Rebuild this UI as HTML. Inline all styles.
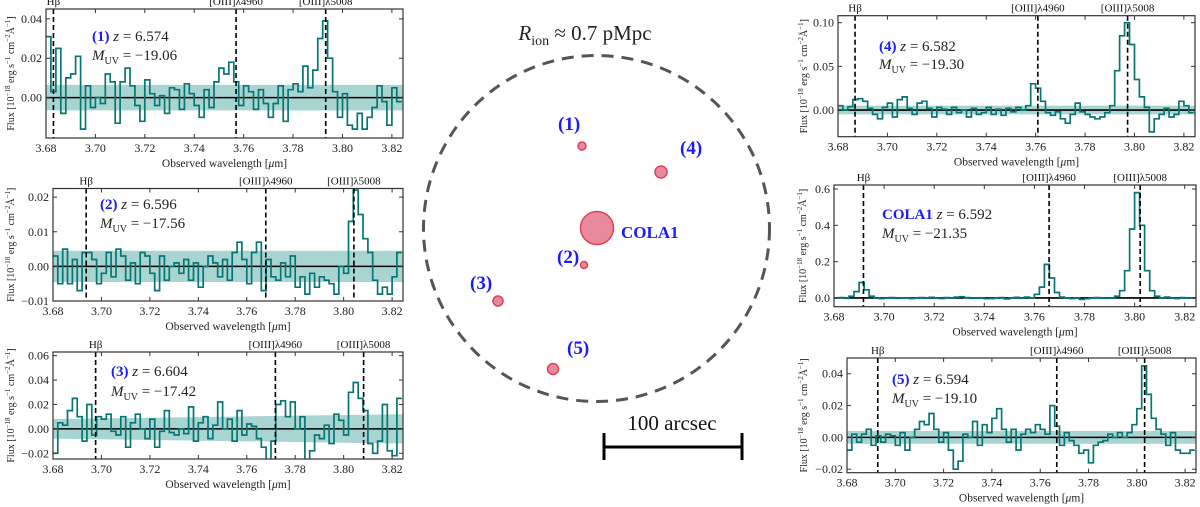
<!DOCTYPE html>
<html><head><meta charset="utf-8"><style>
html,body{margin:0;padding:0;background:#fff;}
svg{display:block;font-family:"Liberation Serif","DejaVu Serif",serif;}
</style></head><body>
<svg id="fig" width="1200" height="507" viewBox="0 0 1200 507" xmlns="http://www.w3.org/2000/svg">
<g id="center">
  <text x="585" y="40" font-size="21" text-anchor="middle" fill="#222"><tspan font-style="italic">R</tspan><tspan font-size="14" dy="5">ion</tspan><tspan dy="-5"> ≈ 0.7 pMpc</tspan></text>
  <circle cx="596.5" cy="228.5" r="173" fill="none" stroke="#555" stroke-width="3" stroke-dasharray="12,8"/>
  <line x1="604" y1="447" x2="742" y2="447" stroke="#000" stroke-width="3"/>
  <line x1="604" y1="433" x2="604" y2="460" stroke="#000" stroke-width="3"/>
  <line x1="742" y1="433" x2="742" y2="460" stroke="#000" stroke-width="3"/>
  <text x="672" y="430" font-size="21" text-anchor="middle" fill="#111">100 arcsec</text>
</g>
</svg>
<script>
// ---- map data ----
const srcNames = ['(1)','(4)','COLA1','(2)','(3)','(5)'];
const srcX = [582, 661, 597, 584, 498, 553];
const srcY = [146, 172, 228, 265, 301, 369];
const srcR = [4, 6, 16.5, 3.5, 5, 5.5];
const srcLabelX = [558, 680, 621, 557, 470, 567];
const srcLabelY = [130, 154, 238, 263, 289, 354];

// ---- spectra data ----
const panelIds = ['p1','p2','p3','p4','cola1','p5'];
const panelTags = ['(1)','(2)','(3)','(4)','COLA1','(5)'];
const redshifts = [6.574, 6.596, 6.604, 6.582, 6.592, 6.594];
const muvValues = ['−19.06','−17.56','−17.42','−19.30','−21.35','−19.10'];
const restLines = [0.48627, 0.49603, 0.50082];
const lineNames = ['Hβ','[OIII]λ4960','[OIII]λ5008'];
const xTicks = [3.68,3.70,3.72,3.74,3.76,3.78,3.80,3.82];
const xTickLabels = ['3.68','3.70','3.72','3.74','3.76','3.78','3.80','3.82'];
const binStart = 3.680;
const binWidth = 0.002;
const yTicks1 = [0.00,0.02,0.04];
const yTicks2 = [-0.01,0.00,0.01,0.02];
const yTicks3 = [-0.02,0.00,0.02,0.04,0.06];
const yTicks4 = [0.00,0.05,0.10];
const yTicksC = [0.0,0.2,0.4,0.6];
const yTicks5 = [-0.02,0.00,0.02,0.04];
const errBand1 = [0.0065,0.0065];
const errBand2 = [0.0045,0.0045];
const errBand3 = [0.008,0.012];
const errBand4 = [0.005,0.005];
const errBandC = [0.004,0.004];
const errBand5 = [0.004,0.004];
const flux1 = [0.031,0.003,0.025,-0.008,0.010,0.012,0.021,-0.016,0.006,-0.005,0.000,-0.003,0.012,0.008,-0.013,0.008,0.015,0.006,-0.004,-0.012,0.009,0.002,-0.004,0.001,-0.008,0.005,0.004,-0.006,0.007,0.002,-0.004,-0.010,0.004,-0.005,0.008,0.015,0.012,0.018,0.008,-0.004,0.006,0.003,-0.006,0.004,-0.003,-0.010,-0.003,0.006,-0.012,0.004,0.007,0.003,0.016,0.005,0.014,0.030,0.039,0.020,0.003,-0.010,0.002,-0.014,-0.016,-0.008,-0.016,-0.010,-0.005,0.006,-0.002,-0.014,0.005,-0.002];
const flux2 = [0.003,-0.005,0.005,-0.005,0.002,-0.007,0.004,0.004,0.002,-0.005,-0.002,0.004,-0.003,0.005,0.003,-0.004,0.001,-0.005,0.004,0.003,-0.002,-0.007,0.003,-0.004,0.000,0.001,-0.002,0.002,-0.004,0.001,-0.006,0.000,0.003,0.001,-0.003,0.002,-0.004,0.004,0.007,0.002,-0.005,0.004,0.007,-0.007,0.002,-0.003,-0.004,0.001,-0.003,0.003,-0.006,-0.003,-0.008,-0.002,-0.006,-0.003,-0.004,-0.005,-0.008,0.000,-0.002,0.013,0.022,0.015,0.008,0.004,-0.004,-0.008,-0.006,-0.008,-0.003,0.004];
const flux3 = [-0.020,0.005,0.003,0.015,0.025,0.010,-0.010,0.020,-0.005,0.010,0.008,0.012,-0.002,-0.005,0.010,-0.015,0.005,0.012,0.000,-0.008,0.008,-0.015,-0.002,0.015,-0.003,-0.005,0.000,-0.004,0.018,-0.010,0.005,0.010,-0.008,0.003,0.022,0.000,0.008,-0.010,0.015,-0.005,0.004,0.002,-0.008,-0.015,-0.027,-0.010,0.020,0.023,0.010,0.022,0.000,0.010,-0.027,-0.018,-0.005,-0.008,0.003,-0.012,0.012,0.007,-0.005,0.030,0.038,0.025,0.015,-0.012,-0.020,-0.010,0.020,-0.018,-0.022,0.025];
const flux4 = [0.005,0.000,0.004,0.012,0.013,0.010,0.002,-0.005,-0.010,0.003,0.008,-0.008,0.012,0.015,0.002,-0.005,0.008,0.010,0.002,-0.008,0.003,0.001,-0.005,0.003,-0.003,0.000,-0.008,0.002,-0.005,-0.003,0.003,-0.005,0.001,-0.006,0.002,-0.002,0.003,0.000,0.005,0.030,0.025,0.010,-0.003,-0.006,-0.002,-0.010,-0.015,-0.005,0.008,-0.002,-0.005,-0.008,-0.010,-0.008,-0.003,0.005,0.045,0.085,0.100,0.075,0.035,0.015,0.003,-0.025,-0.010,-0.005,0.002,-0.008,-0.005,0.010,0.005,-0.003];
const fluxC = [0.000,0.002,-0.002,0.010,0.035,0.085,0.045,0.010,0.000,-0.003,0.000,0.002,-0.002,0.000,0.001,-0.003,0.000,0.002,0.000,0.004,0.000,-0.003,0.002,0.000,0.005,0.007,0.002,-0.002,0.000,0.000,-0.004,-0.003,0.000,0.002,-0.005,0.000,0.003,-0.002,0.005,0.000,0.020,0.060,0.185,0.110,0.030,0.005,0.000,-0.003,0.000,-0.008,-0.004,0.000,0.002,0.000,-0.002,0.000,0.010,0.040,0.150,0.380,0.580,0.400,0.150,0.040,0.010,0.000,0.005,0.000,-0.003,0.002,0.000,0.000];
const flux5 = [-0.008,0.002,-0.003,0.002,0.005,-0.005,0.001,-0.003,0.002,0.001,-0.005,0.003,-0.008,0.000,0.005,0.010,0.008,0.015,0.005,-0.003,0.003,-0.008,-0.020,-0.015,0.002,0.000,0.010,-0.005,0.008,0.003,0.012,0.018,0.005,-0.003,0.005,-0.008,0.002,0.005,0.003,0.008,0.005,0.002,0.020,0.007,-0.005,0.003,-0.002,-0.005,-0.010,-0.008,-0.016,-0.005,-0.003,-0.002,0.002,0.000,0.003,0.000,0.003,0.008,0.018,0.045,0.027,0.012,0.005,0.002,-0.005,0.003,-0.008,-0.010,-0.010,-0.008];

const NS='http://www.w3.org/2000/svg';
const svg=document.getElementById('fig');
function mk(tag, attrs, parent){const e=document.createElementNS(NS,tag);for(const k in attrs)e.setAttribute(k,attrs[k]);(parent||svg).appendChild(e);return e;}

// map sources
const center=document.getElementById('center');
for(let i=0;i<srcNames.length;i++){
  const c=mk('circle',{cx:srcX[i],cy:srcY[i],r:srcR[i],fill:'#e98a9c',stroke:'#e0405e','stroke-width':1.5},center);
  
  
  const t=mk('text',{x:srcLabelX[i],y:srcLabelY[i],'font-size':srcNames[i]==='COLA1'?17:19,'font-weight':'bold',fill:'#1a1aff'},center);
  t.textContent=srcNames[i];
  
  
}

const boxes=[
 {l:46,r:403,t:9,b:138,y0:-0.0205,y1:0.045,tx:92,ty1:41,ty2:60,yl:10},
 {l:53,r:403,t:188.5,b:301,y0:-0.01,y1:0.0225,tx:100,ty1:209,ty2:228,yl:10},
 {l:53,r:403,t:352,b:459,y0:-0.0247,y1:0.063,tx:111,ty1:376,ty2:396,yl:10},
 {l:838,r:1195,t:15.7,b:136.7,y0:-0.0305,y1:0.108,tx:879,ty1:51,ty2:69,yl:803},
 {l:834,r:1196,t:185,b:306.7,y0:-0.048,y1:0.622,tx:882,ty1:219,ty2:238,yl:802},
 {l:847,r:1196,t:358,b:472.7,y0:-0.0222,y1:0.0499,tx:892,ty1:384,ty2:403,yl:803}
];
const allTicks=[yTicks1,yTicks2,yTicks3,yTicks4,yTicksC,yTicks5];
const allErr=[errBand1,errBand2,errBand3,errBand4,errBandC,errBand5];
const allFlux=[flux1,flux2,flux3,flux4,fluxC,flux5];
const xMin=3.68,xMax=3.8245;

for(let p=0;p<6;p++){
  const B=boxes[p];
  const g=mk('g',{});
  
  
  const X=v=>B.l+(v-xMin)/(xMax-xMin)*(B.r-B.l);
  const Y=v=>B.b-(v-B.y0)/(B.y1-B.y0)*(B.b-B.t);
  const clipId='clip'+p;
  const cp=mk('clipPath',{id:clipId},g); mk('rect',{x:B.l,y:B.t,width:B.r-B.l,height:B.b-B.t},cp);
  const inner=mk('g',{'clip-path':'url(#'+clipId+')'},g);
  // error band
  const e=allErr[p];
  const band=mk('polygon',{points:`${B.l},${Y(e[0])} ${B.r},${Y(e[1])} ${B.r},${Y(-e[1])} ${B.l},${Y(-e[0])}`,fill:'#a8d4d2'},inner);
  
  
  // zero line
  const zl=mk('line',{x1:B.l,x2:B.r,y1:Y(0),y2:Y(0),stroke:'#000','stroke-width':1.6},inner);
  
  
  // step spectrum
  const f=allFlux[p]; let d='';
  for(let i=0;i<f.length;i++){
    const xa=X(binStart+i*binWidth), xb=X(binStart+(i+1)*binWidth), y=Y(f[i]);
    d+=(i===0?'M':'L')+xa.toFixed(1)+','+y.toFixed(1)+'L'+xb.toFixed(1)+','+y.toFixed(1);
  }
  const sp=mk('path',{d:d,fill:'none',stroke:'#077673','stroke-width':1.7,'stroke-linejoin':'miter'},inner);
  
  
  // emission lines
  for(let k=0;k<3;k++){
    const lx=X(restLines[k]*(1+redshifts[p]));
    const ln=mk('line',{x1:lx,x2:lx,y1:B.t,y2:B.b,stroke:'#000','stroke-width':1.6,'stroke-dasharray':'5,3'},g);
    
    
    const lt=mk('text',{x:lx,y:B.t-4,'font-size':11,'text-anchor':'middle',fill:'#111'},g);
    lt.textContent=lineNames[k];
    
    
  }
  // frame
  const fr=mk('rect',{x:B.l,y:B.t,width:B.r-B.l,height:B.b-B.t,fill:'none',stroke:'#333','stroke-width':1.2},g);
  
  
  // x ticks
  for(let i=0;i<xTicks.length;i++){
    const tx=X(xTicks[i]);
    mk('line',{x1:tx,x2:tx,y1:B.b,y2:B.b-4,stroke:'#333'},g);
    mk('line',{x1:tx,x2:tx,y1:B.t,y2:B.t+4,stroke:'#333'},g);
    const t=mk('text',{x:tx,y:B.b+14,'font-size':12,'text-anchor':'middle',fill:'#222'},g);
    t.textContent=xTickLabels[i];
    
    
  }
  // y ticks
  const yt=allTicks[p];
  for(let i=0;i<yt.length;i++){
    const ty=Y(yt[i]);
    mk('line',{x1:B.l,x2:B.l+4,y1:ty,y2:ty,stroke:'#333'},g);
    mk('line',{x1:B.r,x2:B.r-4,y1:ty,y2:ty,stroke:'#333'},g);
    const dec=(p===3)?2:(p===4?1:2);
    const t=mk('text',{x:B.l-4,y:ty+4,'font-size':12,'text-anchor':'end',fill:'#222'},g);
    t.textContent=(yt[i]<0?'−':'')+Math.abs(yt[i]).toFixed(dec);
    
    
  }
  // axis labels
  const xl=mk('text',{x:(B.l+B.r)/2,y:B.b+29,'font-size':11.5,'text-anchor':'middle',fill:'#222'},g);
  xl.innerHTML='Observed wavelength [<tspan font-style="italic">μ</tspan>m]';
  
  
  const cy=(B.t+B.b)/2;
  const yl=mk('text',{x:B.yl,y:cy,'font-size':10,'text-anchor':'middle',fill:'#222',transform:`rotate(-90 ${B.yl} ${cy}) translate(0 4)`},g);
  yl.innerHTML='Flux [10<tspan font-size="7" dy="-4">−18</tspan><tspan dy="4"> erg s</tspan><tspan font-size="7" dy="-4">−1</tspan><tspan dy="4"> cm</tspan><tspan font-size="7" dy="-4">−2</tspan><tspan dy="4">Å</tspan><tspan font-size="7" dy="-4">−1</tspan><tspan dy="4">]</tspan>';
  
  
  // annotations
  const a1=mk('text',{x:B.tx,y:B.ty1,'font-size':15,fill:'#222'},g);
  a1.innerHTML=`<tspan fill="#1a1aff" font-weight="bold">${panelTags[p]}</tspan> <tspan font-style="italic">z</tspan> = ${redshifts[p].toFixed(3)}`;
  
  
  const a2=mk('text',{x:B.tx,y:B.ty2,'font-size':15,fill:'#222'},g);
  a2.innerHTML=`<tspan font-style="italic">M</tspan><tspan font-size="10" dy="4">UV</tspan><tspan dy="-4"> = ${muvValues[p]}</tspan>`;
  
  
}
</script>
</body></html>
